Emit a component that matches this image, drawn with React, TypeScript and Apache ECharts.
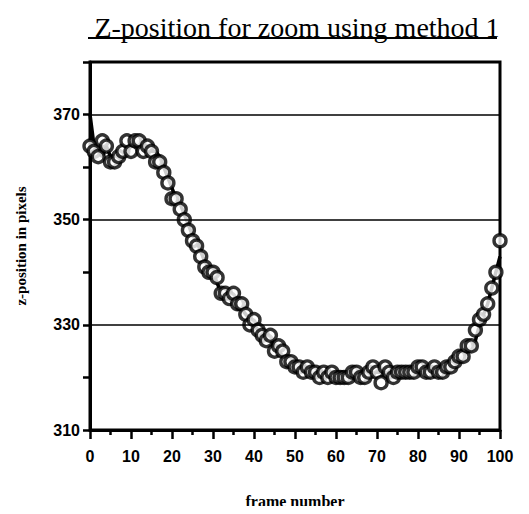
import React, { useEffect, useRef } from "react";
import * as echarts from "echarts";

const frames: number[] = Array.from({ length: 101 }, (_, i) => i);

const lineValues: number[] = [
  370, 364, 363, 362, 364, 362, 361, 361, 362, 363,
  364, 364, 365, 364, 364, 363, 363, 362, 360, 358,
  356, 354, 353, 351, 349, 347, 346, 344, 342, 341,
  340, 338, 336, 335, 335, 334, 333, 333, 332, 331,
  330, 329, 328, 328, 327, 326, 325, 324, 324, 323,
  322, 322, 321.5, 321, 321, 321, 321, 321, 321, 321,
  321, 321, 321, 321, 321, 321, 321, 321, 321, 321,
  321, 321, 321, 321, 321, 321, 321, 321, 321, 321,
  321, 321, 321, 321, 321, 321, 321, 321, 322, 322,
  323, 324, 325, 326, 327, 330, 332, 334, 337, 340,
  343,
];

const circleValues: number[] = [
  364, 363, 362, 365, 364, 361, 361, 362, 363, 365,
  363, 365, 365, 363, 364, 363, 361, 361, 359, 357,
  354, 354, 352, 350, 348, 346, 345, 343, 341, 340,
  340, 339, 336, 336, 335, 336, 334, 334, 332, 330,
  331, 329, 328, 327, 328, 325, 326, 325, 323, 323,
  322, 322, 321, 322, 321, 321, 320, 321, 320, 321,
  320, 320, 320, 320, 321, 321, 320, 320, 321, 322,
  321, 319, 322, 321, 320, 321, 321, 321, 321, 321,
  322, 322, 321, 321, 322, 321, 321, 322, 322, 323,
  324, 324, 326, 326, 329, 331, 332, 334, 337, 340,
  346,
];

const yLabelValues: number[] = [310, 330, 350, 370];
const gridValues: number[] = [330, 350, 370];

export default function App() {
  const ref = useRef<HTMLDivElement>(null);
  useEffect(() => {
    if (!ref.current) return;
    const chart = echarts.init(ref.current, null, { renderer: "svg" });
    const tickFont = {
      fontFamily: "Liberation Sans, Arial, sans-serif",
      fontWeight: "bold" as const,
      fontSize: 16,
      color: "#000",
    };
    chart.setOption({
      animation: false,
      backgroundColor: "#fff",
      title: {
        text: "Z-position for zoom using method 1",
        left: 292,
        textAlign: "center",
        top: 8,
        textStyle: {
          fontFamily: "Liberation Serif, Times New Roman, serif",
          fontWeight: "normal",
          fontSize: 28,
          color: "#000",
        },
      },
      graphic: [
        {
          type: "line",
          shape: { x1: 88, y1: 38, x2: 497, y2: 38 },
          style: { stroke: "#000", lineWidth: 2 },
        },
      ],
      grid: {
        left: 90,
        right: 29,
        top: 62,
        bottom: 78,
        show: true,
        borderColor: "#000",
        borderWidth: 3,
        containLabel: false,
      },
      xAxis: {
        type: "value",
        min: 0,
        max: 100,
        interval: 10,
        name: "frame number",
        nameLocation: "middle",
        nameGap: 63,
        nameTextStyle: {
          fontFamily: "Liberation Serif, Times New Roman, serif",
          fontWeight: "bold",
          fontSize: 16,
          color: "#000",
        },
        axisLine: { show: true, lineStyle: { color: "#000", width: 3 } },
        axisTick: { show: true, length: 9, lineStyle: { color: "#000", width: 2.5 } },
        minorTick: { show: true, splitNumber: 2, length: 5, lineStyle: { color: "#000", width: 2.5 } },
        axisLabel: { ...tickFont, margin: 18 },
        splitLine: { show: false },
      },
      yAxis: {
        type: "value",
        min: 310,
        max: 380,
        interval: 10,
        name: "z-position in pixels",
        nameLocation: "middle",
        nameGap: 62,
        nameTextStyle: {
          fontFamily: "Liberation Serif, Times New Roman, serif",
          fontWeight: "bold",
          fontSize: 15,
          color: "#000",
        },
        axisLine: { show: true, lineStyle: { color: "#000", width: 3 } },
        axisTick: { show: true, length: 7, lineStyle: { color: "#000", width: 2.5 } },
        axisLabel: {
          ...tickFont,
          margin: 10,
          formatter: (v: number) => (yLabelValues.includes(v) ? String(v) : ""),
        },
        splitLine: { show: false },
      },
      series: [
        {
          type: "line",
          data: frames.map((f, i) => [f, lineValues[i]]),
          symbol: "none",
          lineStyle: { color: "#000", width: 3.5 },
          z: 2,
          markLine: {
            silent: true,
            symbol: ["none", "none"],
            label: { show: false },
            lineStyle: { color: "#000", width: 1.6, type: "solid" },
            data: gridValues.map((v) => ({ yAxis: v })),
          },
        },
        {
          type: "scatter",
          data: frames.map((f, i) => [f, circleValues[i]]),
          symbol: "circle",
          symbolSize: 12,
          itemStyle: { color: "#fff", borderColor: "#000", borderWidth: 3.4 },
          z: 3,
        },
      ],
    });
    return () => chart.dispose();
  }, []);
  return <div ref={ref} style={{ width: 529, height: 514, margin: -8 }} />;
}
